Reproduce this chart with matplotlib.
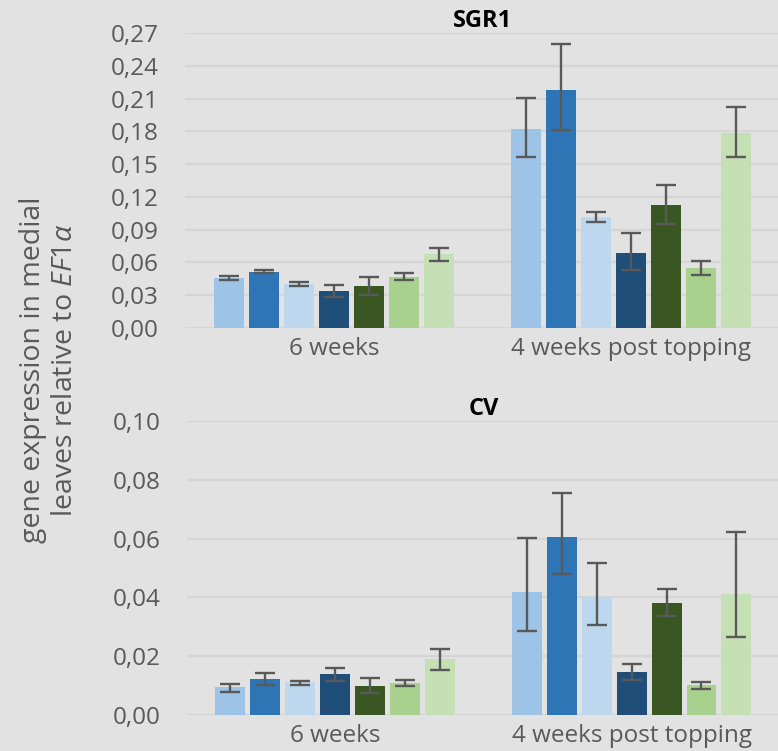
import numpy as np
import matplotlib
matplotlib.use("Agg")
import matplotlib.pyplot as plt
from matplotlib.ticker import FuncFormatter

plt.rcParams['font.family'] = ['Open Sans', 'DejaVu Sans']
plt.rcParams['mathtext.fontset'] = 'custom'
plt.rcParams['mathtext.rm'] = 'Open Sans'
plt.rcParams['mathtext.it'] = 'Open Sans:italic'

# data
groups = ["6 weeks", "4 weeks post topping"]
colors = ["#9DC3E6", "#2E75B6", "#BDD7EE", "#1F4E79", "#3A5723", "#A9D18E", "#C5E0B4"]

sgr1_6w = [0.046, 0.0515, 0.040, 0.034, 0.038, 0.047, 0.068]
sgr1_6w_lo = [0.0025, 0.0015, 0.002, 0.0061, 0.008, 0.0033, 0.0064]
sgr1_6w_hi = [0.0020, 0.0015, 0.002, 0.0055, 0.0082, 0.0033, 0.0055]
sgr1_4w = [0.182, 0.2177, 0.1018, 0.0686, 0.1125, 0.0552, 0.1784]
sgr1_4w_lo = [0.0259, 0.0366, 0.0044, 0.0158, 0.0171, 0.0064, 0.0222]
sgr1_4w_hi = [0.0286, 0.0418, 0.0040, 0.0183, 0.0183, 0.0062, 0.0241]

cv_6w = [0.0094, 0.0124, 0.0111, 0.0139, 0.0100, 0.0110, 0.0189]
cv_6w_lo = [0.0016, 0.0021, 0.0008, 0.0024, 0.0026, 0.0011, 0.0036]
cv_6w_hi = [0.0012, 0.0018, 0.0006, 0.0020, 0.0025, 0.0010, 0.0036]
cv_4w = [0.0417, 0.0605, 0.0401, 0.0147, 0.0382, 0.0103, 0.0410]
cv_4w_lo = [0.0131, 0.0127, 0.0094, 0.0027, 0.0045, 0.0013, 0.0144]
cv_4w_hi = [0.0185, 0.0150, 0.0115, 0.0025, 0.0046, 0.0010, 0.0214]

sgr1_ticks = [0, 0.03, 0.06, 0.09, 0.12, 0.15, 0.18, 0.21, 0.24, 0.27]
cv_ticks = [0, 0.02, 0.04, 0.06, 0.08, 0.10]

bg = "#E1E2E1"
txt = "#595959"

fig = plt.figure(figsize=(7.78, 7.51), dpi=100, facecolor=bg)


def panel(rect, title, a, a_lo, a_hi, b, b_lo, b_hi, ticks):
    ax = fig.add_axes(rect)
    ax.set_facecolor(bg)
    step = 0.1176
    width = 0.1008
    for i in range(7):
        off = (i - 3) * step
        ax.bar([0 + off, 1 + off], [a[i], b[i]], width=width, color=colors[i],
               yerr=[[a_lo[i], b_lo[i]], [a_hi[i], b_hi[i]]], ecolor="#595959",
               capsize=7, error_kw=dict(elinewidth=1.7, capthick=1.7), zorder=3)
    ax.set_xlim(-0.5, 1.5)
    ax.set_ylim(0, ticks[-1])
    ax.set_yticks(ticks)
    ax.yaxis.set_major_formatter(FuncFormatter(lambda v, p: f"{v:.2f}".replace(".", ",")))
    ax.set_xticks([0, 1])
    ax.set_xticklabels(groups)
    ax.grid(axis="y", color="#D4D5D4", linewidth=1.6, zorder=0)
    for s in ax.spines.values():
        s.set_visible(False)
    ax.tick_params(length=0, labelsize=17.5, labelcolor=txt)
    ax.tick_params(axis="y", pad=19)
    ax.tick_params(axis="x", pad=6.5)
    ax.set_title(title, fontsize=17, fontweight="bold", color="black", pad=4)
    return ax


panel([0.2378, 0.5633, 0.7648, 0.3928], "SGR1",
      sgr1_6w, sgr1_6w_lo, sgr1_6w_hi, sgr1_4w, sgr1_4w_lo, sgr1_4w_hi, sgr1_ticks)
panel([0.2400, 0.0479, 0.7626, 0.3915], "CV",
      cv_6w, cv_6w_lo, cv_6w_hi, cv_4w, cv_4w_lo, cv_4w_hi, cv_ticks)

fig.text(0.063, 0.507, "gene expression in medial\nleaves relative to $\\mathit{EF1α}$",
         rotation=90, ha="center", va="center", fontsize=20.5, color=txt, linespacing=1.15)

fig.savefig("out.png", dpi=100, facecolor=bg)
